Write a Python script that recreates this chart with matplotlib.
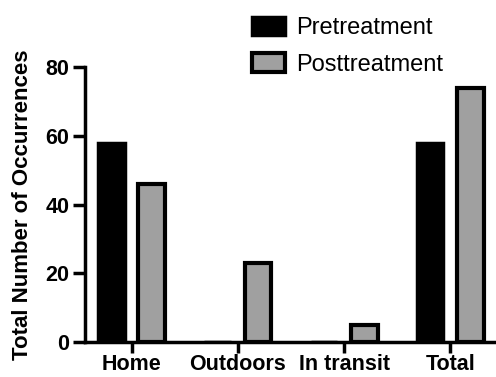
import matplotlib.pyplot as plt
import numpy as np

plt.rcParams['font.family'] = ['Liberation Sans', 'DejaVu Sans']

categories = ["Home", "Outdoors", "In transit", "Total"]
pretreatment = [58, 0, 0, 58]
posttreatment = [46, 23, 5, 74]

fig = plt.figure(figsize=(4.96, 3.77), dpi=100)
ax = fig.add_axes([0.171, 0.093, 0.829, 0.729])

x = np.arange(len(categories))
w = 0.25
off = 0.19
ax.bar(x - off, pretreatment, w, color="black", edgecolor="black", linewidth=2.5,
       label="Pretreatment")
ax.bar(x + off, posttreatment, w, color="#a0a0a0", edgecolor="black", linewidth=3,
       label="Posttreatment")

ax.set_xlim(-0.44, 3.43)
ax.set_ylim(0, 80)
ax.set_yticks([0, 20, 40, 60, 80])
ax.set_xticks(x)
ax.set_xticklabels(categories)

for s in ["top", "right"]:
    ax.spines[s].set_visible(False)
for s in ["left", "bottom"]:
    ax.spines[s].set_linewidth(2.5)
ax.tick_params(axis="both", width=2.5, labelsize=15.5)
ax.tick_params(axis="y", length=9, pad=2)
ax.tick_params(axis="x", length=8, pad=1)
for lab in ax.get_xticklabels() + ax.get_yticklabels():
    lab.set_fontweight("bold")

ax.set_ylabel("Total Number of Occurrences", fontsize=16, fontweight="bold", labelpad=9)

ax.legend(loc="upper left", bbox_to_anchor=(0.475, 1.0), bbox_transform=fig.transFigure,
          frameon=False, fontsize=17, handlelength=1.4, handleheight=0.85,
          labelspacing=0.6, handletextpad=0.45, borderaxespad=0.3)

fig.savefig("out.png", dpi=100)
